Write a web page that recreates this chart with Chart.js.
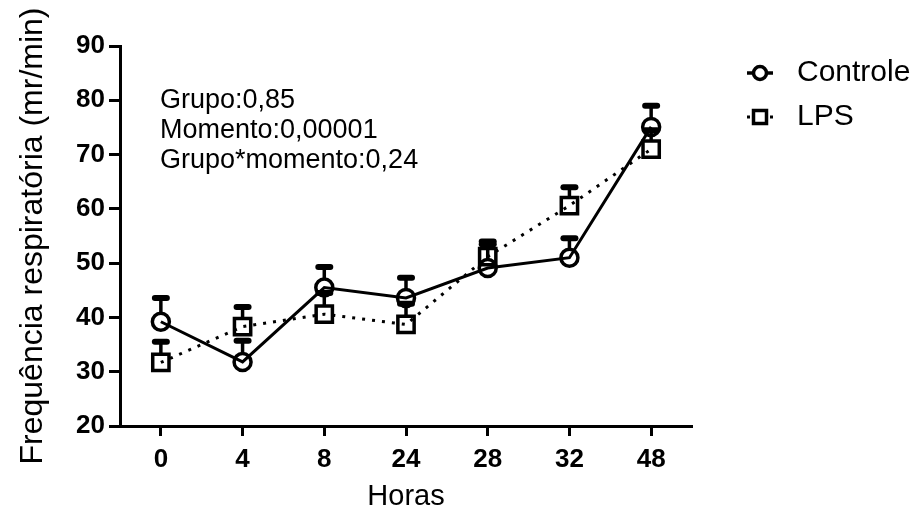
<!DOCTYPE html>
<html>
<head>
<meta charset="utf-8">
<script src="https://cdn.jsdelivr.net/npm/chart.js@4"></script>
<style>
  html, body { margin: 0; padding: 0; background: #fff; }
  #wrap { width: 920px; height: 518px; }
</style>
</head>
<body>
<div id="wrap"><canvas id="c" width="920" height="518"></canvas></div>
<script>
const categories = ['0', '4', '8', '24', '28', '32', '48'];
const controleValues = [39.2, 31.8, 45.5, 43.6, 49.1, 51.0, 75.1];
const controleSem = [4.4, 3.9, 3.8, 3.7, 4.9, 3.6, 3.9];
const lpsValues = [31.7, 38.3, 40.6, 38.7, 51.2, 60.6, 71.0];
const lpsSem = [3.8, 3.6, 3.9, 3.8, 2.3, 3.4, 3.5];
const yTicks = [20, 30, 40, 50, 60, 70, 80, 90];
const seriesNames = ['Controle', 'LPS'];
const statsLines = ['Grupo:0,85', 'Momento:0,00001', 'Grupo*momento:0,24'];
const xTitle = 'Horas';
const yTitle = 'Frequência respiratória (mr/min)';

const FONT = "'Liberation Sans', Arial, sans-serif";

const errorBars = {
  id: 'errorBars',
  afterDatasetsDraw(chart) {
    const ctx = chart.ctx;
    const yScale = chart.scales.y;
    chart.data.datasets.forEach((ds, di) => {
      const meta = chart.getDatasetMeta(di);
      ctx.save();
      ctx.strokeStyle = '#000';
      meta.data.forEach((pt, i) => {
        const top = yScale.getPixelForValue(ds.data[i] + ds.sem[i]);
        const base = pt.y;
        ctx.lineWidth = 3.5;
        ctx.lineCap = 'butt';
        ctx.beginPath();
        ctx.moveTo(pt.x, base - 8);
        ctx.lineTo(pt.x, top);
        ctx.stroke();
        ctx.lineWidth = 6;
        ctx.lineCap = 'round';
        ctx.beginPath();
        ctx.moveTo(pt.x - 6, top);
        ctx.lineTo(pt.x + 6, top);
        ctx.stroke();
      });
      ctx.restore();
    });
  }
};

const extras = {
  id: 'extras',
  afterDraw(chart) {
    const ctx = chart.ctx;
    ctx.save();
    ctx.fillStyle = '#000';
    ctx.textBaseline = 'middle';
    ctx.textAlign = 'left';
    ctx.font = '27px ' + FONT;
    statsLines.forEach((t, i) => ctx.fillText(t, 160, 101 + i * 30));

    // legend
    const rows = [73, 117];
    chart.data.datasets.forEach((ds, i) => {
      const y = rows[i];
      const cx = 760;
      ctx.strokeStyle = '#000';
      ctx.lineWidth = 3.5;
      if (i === 0) {
        ctx.beginPath();
        ctx.moveTo(747, y);
        ctx.lineTo(773, y);
        ctx.stroke();
        ctx.beginPath();
        ctx.arc(cx, y, 6.5, 0, Math.PI * 2);
        ctx.fillStyle = '#fff';
        ctx.fill();
        ctx.stroke();
      } else {
        ctx.fillStyle = '#000';
        ctx.fillRect(747, y - 1.5, 3, 3);
        ctx.fillRect(770, y - 1.5, 3, 3);
        ctx.strokeRect(cx - 6.5, y - 6.5, 13, 13);
      }
      ctx.fillStyle = '#000';
      ctx.font = '30px ' + FONT;
      ctx.fillText(ds.label, 797, y);
    });
    ctx.restore();
  }
};

new Chart(document.getElementById('c'), {
  type: 'line',
  data: {
    labels: categories,
    datasets: [
      {
        label: seriesNames[0],
        data: controleValues,
        sem: controleSem,
        borderColor: '#000',
        borderWidth: 3,
        pointStyle: 'circle',
        pointRadius: 8.5,
        pointBorderWidth: 3.5,
        pointBorderColor: '#000',
        pointBackgroundColor: 'rgba(255,255,255,0)',
        tension: 0
      },
      {
        label: seriesNames[1],
        data: lpsValues,
        sem: lpsSem,
        borderColor: '#000',
        borderWidth: 3,
        borderDash: [3, 7],
        pointStyle: 'rect',
        pointRadius: 11.5,
        pointBorderWidth: 3.5,
        pointBorderColor: '#000',
        pointBackgroundColor: 'rgba(255,255,255,0)',
        tension: 0
      }
    ]
  },
  options: {
    responsive: false,
    animation: false,
    devicePixelRatio: 1,
    layout: { padding: { top: 46, right: 228, bottom: 0, left: 0 } },
    plugins: { legend: { display: false }, tooltip: { enabled: false } },
    scales: {
      x: {
        type: 'category',
        offset: true,
        afterFit(s) { s.height = 92; },
        border: { display: true, color: '#000', width: 3 },
        grid: { offset: false, drawOnChartArea: false, drawTicks: true, tickLength: 10, tickWidth: 3, tickColor: '#000', color: '#000' },
        ticks: { color: '#000', padding: 8, font: { family: FONT, size: 26, weight: 'bold' }, maxRotation: 0 },
        title: { display: true, text: xTitle, color: '#000', font: { family: FONT, size: 29 }, padding: { top: 0, bottom: 4 } }
      },
      y: {
        min: 20,
        max: 90,
        afterFit(s) { s.width = 120; },
        afterBuildTicks(s) { s.ticks = yTicks.map(v => ({ value: v })); },
        border: { display: true, color: '#000', width: 3 },
        grid: { drawOnChartArea: false, drawTicks: true, tickLength: 11, tickWidth: 3, tickColor: '#000', color: '#000' },
        ticks: { color: '#000', padding: 4, font: { family: FONT, size: 26, weight: 'bold' } },
        title: { display: true, text: yTitle, color: '#000', font: { family: FONT, size: 32 }, padding: { top: 14, bottom: 0 } }
      }
    }
  },
  plugins: [errorBars, extras]
});
</script>
</body>
</html>
